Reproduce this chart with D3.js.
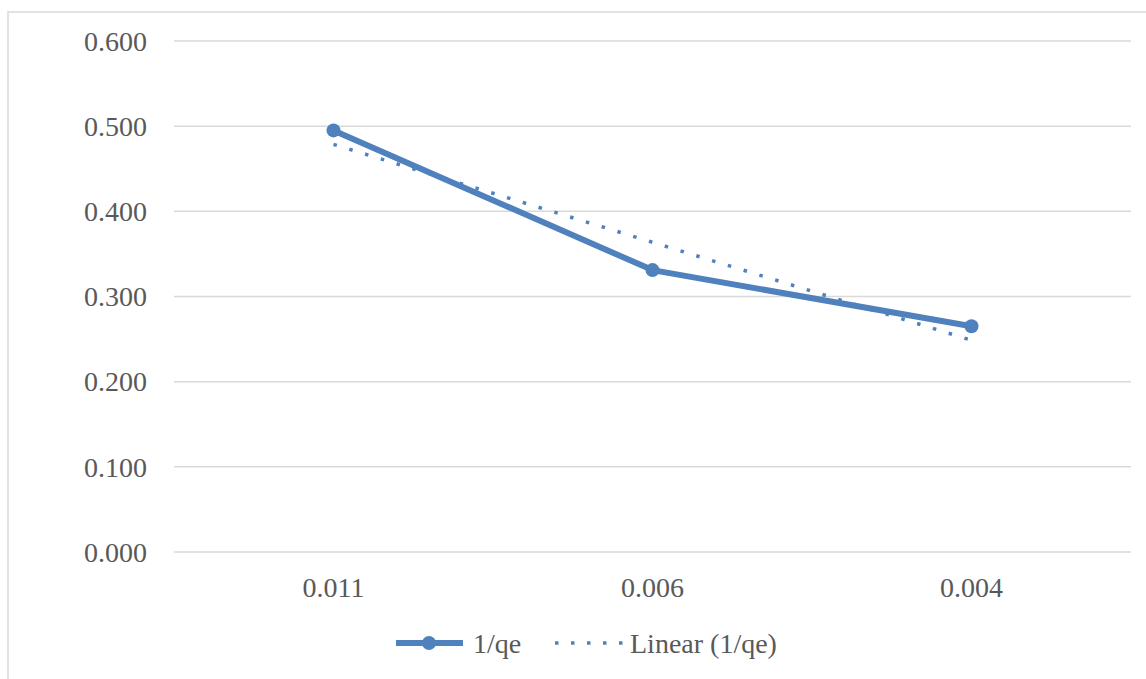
<!DOCTYPE html>
<html>
<head>
<meta charset="utf-8">
<script src="https://cdn.jsdelivr.net/npm/d3@7"></script>
<style>
  html, body { margin: 0; padding: 0; background: #fff; }
  svg { display: block; }
  text { font-family: "Liberation Serif", "Times New Roman", serif; fill: #595959; }
</style>
</head>
<body>
<svg id="chart" width="1146" height="679"></svg>
<script>
// Data
const categories = ['0.011', '0.006', '0.004'];
const values = [0.495, 0.331, 0.265];
const yTicks = [0, 0.1, 0.2, 0.3, 0.4, 0.5, 0.6];
const seriesName = '1/qe';
const trendName = 'Linear (1/qe)';

const blue = '#4f81bd';
const grid = '#d9d9d9';

const svg = d3.select('#chart');

// chart frame (cut off on the right and bottom)
svg.append('rect')
  .attr('x', 8).attr('y', 12)
  .attr('width', 1160).attr('height', 700)
  .attr('fill', 'none')
  .attr('stroke', grid)
  .attr('stroke-width', 1.5);

const plot = { left: 174, right: 1131, top: 41, bottom: 552 };

const x = d3.scaleBand()
  .domain(categories)
  .range([plot.left, plot.right]);

const y = d3.scaleLinear()
  .domain([0, 0.6])
  .range([plot.bottom, plot.top]);

// gridlines
svg.append('g')
  .selectAll('line')
  .data(yTicks)
  .enter().append('line')
  .attr('x1', plot.left).attr('x2', plot.right)
  .attr('y1', d => y(d)).attr('y2', d => y(d))
  .attr('stroke', grid)
  .attr('stroke-width', 1.5);

// y axis labels
svg.append('g')
  .selectAll('text')
  .data(yTicks)
  .enter().append('text')
  .attr('x', 147)
  .attr('y', d => y(d))
  .attr('dy', '0.35em')
  .attr('text-anchor', 'end')
  .style('font-size', '28px')
  .text(d => d3.format('.3f')(d));

// x axis labels
svg.append('g')
  .selectAll('text')
  .data(categories)
  .enter().append('text')
  .attr('x', d => x(d) + x.bandwidth() / 2)
  .attr('y', 587)
  .attr('dy', '0.35em')
  .attr('text-anchor', 'middle')
  .style('font-size', '28px')
  .text(d => d);

const cx = (d, i) => x(categories[i]) + x.bandwidth() / 2;

// linear trendline (least squares on category index 1..n)
const n = values.length;
const idx = values.map((v, i) => i + 1);
const mx = d3.mean(idx), my = d3.mean(values);
const slope = d3.sum(idx, (t, i) => (t - mx) * (values[i] - my)) / d3.sum(idx, t => (t - mx) ** 2);
const icpt = my - slope * mx;
const trend = [idx[0], idx[n - 1]].map(t => icpt + slope * t);

svg.append('line')
  .attr('x1', cx(null, 0)).attr('y1', y(trend[0]))
  .attr('x2', cx(null, n - 1)).attr('y2', y(trend[1]))
  .attr('stroke', blue)
  .attr('stroke-width', 3.5)
  .attr('stroke-dasharray', '3.5 13');

// series line
const line = d3.line()
  .x((d, i) => cx(d, i))
  .y(d => y(d));

svg.append('path')
  .datum(values)
  .attr('d', line)
  .attr('fill', 'none')
  .attr('stroke', blue)
  .attr('stroke-width', 6)
  .attr('stroke-linejoin', 'round');

svg.append('g')
  .selectAll('circle')
  .data(values)
  .enter().append('circle')
  .attr('cx', (d, i) => cx(d, i))
  .attr('cy', d => y(d))
  .attr('r', 7)
  .attr('fill', blue);

// legend
const legY = 643;
const leg = svg.append('g');
leg.append('line')
  .attr('x1', 396).attr('x2', 463)
  .attr('y1', legY).attr('y2', legY)
  .attr('stroke', blue).attr('stroke-width', 6);
leg.append('circle')
  .attr('cx', 429).attr('cy', legY).attr('r', 7).attr('fill', blue);
leg.append('text')
  .attr('x', 473).attr('y', legY).attr('dy', '0.35em')
  .style('font-size', '28px')
  .text(seriesName);
leg.append('line')
  .attr('x1', 555).attr('x2', 623)
  .attr('y1', legY).attr('y2', legY)
  .attr('stroke', blue).attr('stroke-width', 3.5)
  .attr('stroke-dasharray', '3.5 12.5');
leg.append('text')
  .attr('x', 630).attr('y', legY).attr('dy', '0.35em')
  .style('font-size', '28px')
  .text(trendName);
</script>
</body>
</html>
